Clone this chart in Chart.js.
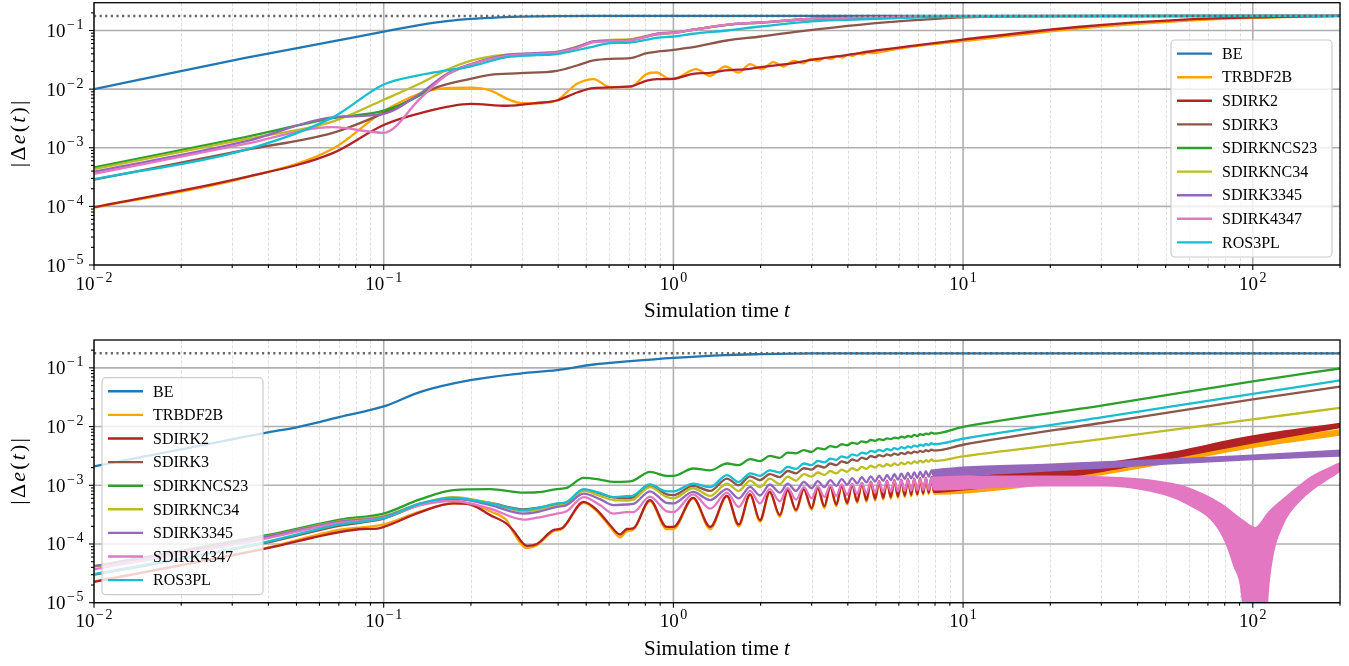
<!DOCTYPE html>
<html>
<head>
<meta charset="utf-8">
<script src="https://cdn.jsdelivr.net/npm/chart.js@4.4.0/dist/chart.umd.min.js"></script>
<style>
  body { margin: 0; background: #fff; }
  canvas { position: absolute; left: 0; }
</style>
</head>
<body>
<canvas id="chartTop" width="1349" height="333" style="top:0"></canvas>
<canvas id="chartBottom" width="1349" height="333" style="top:333px"></canvas>
<script>
// labels, colours and axis ticks
const methods = ['BE', 'TRBDF2B', 'SDIRK2', 'SDIRK3', 'SDIRKNCS23', 'SDIRKNC34', 'SDIRK3345', 'SDIRK4347', 'ROS3PL'];
const colors = ['#1f77b4', '#ffa500', '#b22222', '#8c564b', '#2ca02c', '#bcbd22', '#9467bd', '#e377c2', '#17becf'];
const xTickExps = [-2, -1, 0, 1, 2];
const yTickExps = [-5, -4, -3, -2, -1];
const tRange = [0.01, 200];
const errRange = [1e-5, 0.298];
const refLevel = [[0.01, 0.177], [200, 0.177]];

// top panel: [t, |de(t)|]
const topBE = [[0.01,0.01],[0.0333,0.034],[0.0667,0.065],[0.1,0.096],[0.134,0.125],[0.165,0.145],[0.2,0.158],[0.25,0.168],[0.3,0.173],[0.4,0.176],[0.6,0.177],[200,0.177]];
const topTRBDF2B = [[0.01,9.5e-5],[0.0333,3.1e-4],[0.0667,9.6e-4],[0.1,4.2e-3],[0.134,8.5e-3],[0.153,1.0e-2],[0.199,1.06e-2],[0.233,9.5e-3],[0.266,6.9e-3],[0.296,5.8e-3],[0.338,5.7e-3],[0.396,6.4e-3],[0.43,9.0e-3],[0.465,1.23e-2],[0.53,1.48e-2],[0.605,1.08e-2],[0.71,1.08e-2],[0.81,1.82e-2],[0.877,1.92e-2],[0.95,1.55e-2],[1.0,1.5e-2],[1.2,2.19e-2],[1.34,1.69e-2],[1.51,2.43e-2],[1.68,1.92e-2],[1.84,2.67e-2],[2.02,2.19e-2],[2.21,2.89e-2],[2.4,2.43e-2],[2.6,3.04e-2],[2.81,2.75e-2],[2.98,3.25e-2],[3.16,3.0e-2],[3.33,3.45e-2],[3.5,3.25e-2],[3.67,3.65e-2],[3.84,3.45e-2],[4.0,3.85e-2],[4.17,3.7e-2],[4.34,4.05e-2],[4.5,3.9e-2],[4.67,4.2e-2],[4.84,4.1e-2],[5.5,4.55e-2],[7.1,5.5e-2],[10,6.6e-2],[26,0.11],[60,0.148],[100,0.164],[200,0.176]];
const topSDIRK2 = [[0.01,9.7e-5],[0.0333,3.15e-4],[0.0667,8.1e-4],[0.1,2.45e-3],[0.134,3.9e-3],[0.2,5.6e-3],[0.266,5.2e-3],[0.338,5.8e-3],[0.396,6.4e-3],[0.465,8.75e-3],[0.53,1.04e-2],[0.71,1.11e-2],[0.81,1.4e-2],[0.877,1.48e-2],[1.0,1.5e-2],[1.17,1.82e-2],[1.34,1.9e-2],[1.51,2.08e-2],[1.84,2.22e-2],[2.0,2.37e-2],[2.6,2.78e-2],[3.0,3.16e-2],[4,3.85e-2],[5,4.56e-2],[7.1,5.7e-2],[10,7.0e-2],[26,0.117],[60,0.155],[100,0.167],[150,0.175],[200,0.177]];
const topSDIRK3 = [[0.01,2.85e-4],[0.0333,9.2e-4],[0.0667,1.8e-3],[0.1,3.9e-3],[0.134,8.0e-3],[0.153,1.08e-2],[0.199,1.5e-2],[0.233,1.75e-2],[0.296,1.87e-2],[0.396,2.05e-2],[0.465,2.53e-2],[0.53,3.08e-2],[0.605,3.29e-2],[0.71,3.38e-2],[0.81,4.11e-2],[1.0,4.69e-2],[1.17,5.2e-2],[1.53,6.75e-2],[2.0,7.9e-2],[2.6,9.4e-2],[4,0.12],[5,0.134],[7.1,0.152],[10,0.167],[20,0.176],[200,0.177]];
const topSDIRKNCS23 = [[0.01,4.6e-4],[0.0333,1.52e-3],[0.0667,3.2e-3],[0.1,4.3e-3],[0.134,8.0e-3],[0.165,1.75e-2],[0.199,2.6e-2],[0.233,3.33e-2],[0.266,3.85e-2],[0.396,4.2e-2],[0.465,5.2e-2],[0.53,6.4e-2],[0.71,6.9e-2],[0.877,8.6e-2],[1.0,9.1e-2],[1.17,0.103],[1.53,0.125],[2.0,0.137],[3.0,0.157],[4,0.163],[7.1,0.173],[10,0.176],[200,0.177]];
const topSDIRKNC34 = [[0.01,4.3e-4],[0.0333,1.4e-3],[0.0667,2.8e-3],[0.1,6.6e-3],[0.134,1.26e-2],[0.165,2.13e-2],[0.199,3.04e-2],[0.233,3.6e-2],[0.266,3.85e-2],[0.396,4.33e-2],[0.465,5.3e-2],[0.53,6.49e-2],[0.605,6.9e-2],[0.71,7.13e-2],[0.877,8.79e-2],[1.0,9.25e-2],[1.17,0.103],[1.53,0.125],[2.0,0.137],[3.0,0.157],[4,0.163],[7.1,0.173],[10,0.176],[200,0.177]];
const topSDIRK3345 = [[0.01,3.9e-4],[0.0333,1.28e-3],[0.0667,3.3e-3],[0.1,3.8e-3],[0.134,8.5e-3],[0.165,1.82e-2],[0.199,2.65e-2],[0.266,3.85e-2],[0.396,4.3e-2],[0.465,5.2e-2],[0.53,6.5e-2],[0.71,6.9e-2],[0.877,8.8e-2],[1.0,9.25e-2],[1.17,0.103],[1.53,0.125],[2.0,0.137],[3.0,0.157],[4,0.163],[7.1,0.173],[10,0.176],[200,0.177]];
const topSDIRK4347 = [[0.01,3.6e-4],[0.0333,1.16e-3],[0.0667,2.24e-3],[0.1,1.8e-3],[0.134,7.0e-3],[0.165,1.75e-2],[0.199,2.6e-2],[0.266,3.7e-2],[0.396,4.2e-2],[0.465,5.0e-2],[0.53,6.3e-2],[0.71,6.8e-2],[0.877,8.7e-2],[1.0,9.1e-2],[1.17,0.103],[1.53,0.126],[2.0,0.138],[3.0,0.158],[4,0.164],[7.1,0.174],[10,0.176],[200,0.177]];
const topROS3PL = [[0.01,2.9e-4],[0.0333,9.2e-4],[0.0667,3.3e-3],[0.1,1.2e-2],[0.134,1.75e-2],[0.165,2.08e-2],[0.199,2.43e-2],[0.266,3.51e-2],[0.338,3.8e-2],[0.396,3.96e-2],[0.53,5.33e-2],[0.605,6.1e-2],[0.71,6.24e-2],[0.877,7.5e-2],[1.0,7.9e-2],[1.17,8.8e-2],[1.53,0.1],[2.0,0.117],[3.0,0.143],[4,0.152],[7.1,0.167],[10,0.173],[30,0.177],[200,0.177]];

// bottom panel: [t, |de(t)|]
const botBE = [[0.01,2.1e-3],[0.02,4.1e-3],[0.0394,7.9e-3],[0.05,9.7e-3],[0.0706,0.0146],[0.1,0.022],[0.134,0.039],[0.199,0.0616],[0.296,0.08],[0.396,0.0914],[0.53,0.114],[0.71,0.13],[1.0,0.148],[1.5,0.165],[2,0.171],[3,0.176],[5,0.177],[200,0.177]];
const botTRBDF2B = [[0.01,2.3e-5],[0.0394,8.6e-5],[0.0706,1.75e-4],[0.1,2.15e-4],[0.134,3.6e-4],[0.174,4.9e-4],[0.199,4.8e-4],[0.233,3.6e-4],[0.266,2.5e-4],[0.28,1.6e-4],[0.312,8.5e-5],[0.338,9.5e-5],[0.385,1.65e-4],[0.412,1.8e-4],[0.49,5.0e-4],[0.545,3.6e-4],[0.605,1.95e-4],[0.655,1.3e-4],[0.69,1.65e-4],[0.727,1.75e-4],[0.83,5.4e-4],[0.948,1.8e-4],[1.0,1.8e-4],[1.17,6.0e-4],[1.34,1.8e-4],[1.53,6.5e-4],[1.68,2.0e-4],[1.84,6.9e-4],[1.99,2.4e-4],[2.15,7.6e-4],[2.33,2.9e-4],[2.48,8.2e-4],[2.65,3.6e-4],[2.82,8.5e-4],[3.0,3.8e-4],[3.15,8.9e-4],[3.32,4.1e-4],[3.48,9.4e-4],[3.65,4.4e-4],[3.81,9.9e-4],[3.98,4.7e-4],[4.14,1.04e-3],[4.31,5.0e-4],[4.47,1.09e-3],[4.64,5.2e-4],[4.8,1.12e-3],[4.97,5.5e-4],[5.13,1.14e-3],[5.3,5.7e-4],[5.46,1.16e-3],[5.63,5.9e-4],[5.79,1.18e-3],[5.96,6.1e-4],[6.12,1.2e-3],[6.29,6.3e-4],[6.45,1.22e-3],[6.62,6.5e-4],[6.78,1.25e-3],[6.95,6.7e-4],[7.11,1.27e-3],[7.28,6.9e-4],[7.44,1.28e-3],[7.61,7.1e-4],[7.77,1.29e-3],[7.94,7.2e-4],[10,7.5e-4],[20,1.1e-3],[30,1.55e-3],[50,2.4e-3],[100,4.5e-3],[200,7.3e-3]];
const botTRBDF2BPeaks = [[7.77,1.29e-3],[10,1.3e-3],[20,1.6e-3],[30,2.05e-3],[50,2.9e-3],[100,5.4e-3],[200,8.6e-3]];
const botSDIRK2 = [[0.01,2.26e-5],[0.0394,8.4e-5],[0.0706,1.6e-4],[0.085,1.8e-4],[0.095,1.83e-4],[0.1,1.95e-4],[0.134,3.5e-4],[0.174,4.9e-4],[0.199,4.7e-4],[0.233,3.1e-4],[0.266,2.2e-4],[0.28,1.7e-4],[0.312,9.3e-5],[0.338,1.0e-4],[0.385,1.72e-4],[0.412,1.85e-4],[0.49,5.2e-4],[0.545,3.77e-4],[0.605,2.09e-4],[0.655,1.45e-4],[0.69,1.8e-4],[0.727,1.85e-4],[0.83,5.6e-4],[0.948,1.95e-4],[1.0,1.95e-4],[1.17,6.1e-4],[1.34,1.95e-4],[1.53,6.6e-4],[1.68,2.15e-4],[1.84,7.0e-4],[1.99,2.54e-4],[2.15,7.7e-4],[2.33,3.1e-4],[2.48,8.3e-4],[2.65,3.8e-4],[2.82,8.6e-4],[3.0,4.1e-4],[3.15,9.0e-4],[3.32,4.4e-4],[3.48,9.5e-4],[3.65,4.7e-4],[3.81,1.0e-3],[3.98,5.0e-4],[4.14,1.05e-3],[4.31,5.3e-4],[4.47,1.1e-3],[4.64,5.6e-4],[4.8,1.15e-3],[4.97,5.9e-4],[5.13,1.17e-3],[5.3,6.1e-4],[5.46,1.2e-3],[5.63,6.3e-4],[5.79,1.22e-3],[5.96,6.5e-4],[6.12,1.25e-3],[6.29,6.7e-4],[6.45,1.27e-3],[6.62,6.9e-4],[6.78,1.3e-3],[6.95,7.1e-4],[7.11,1.32e-3],[7.28,7.3e-4],[7.44,1.34e-3],[7.61,7.5e-4],[7.77,1.36e-3],[7.94,7.7e-4],[10,8.5e-4],[20,1.3e-3],[30,1.75e-3],[50,2.8e-3],[100,5.4e-3],[200,9.8e-3]];
const botSDIRK2Peaks = [[7.77,1.36e-3],[10,1.39e-3],[20,1.8e-3],[30,2.3e-3],[50,3.4e-3],[100,6.8e-3],[200,1.11e-2]];
const botSDIRK3 = [[0.01,3.0e-5],[0.0394,1.05e-4],[0.0706,2.05e-4],[0.1,2.7e-4],[0.134,4.7e-4],[0.174,5.9e-4],[0.233,5.0e-4],[0.304,3.9e-4],[0.338,4.1e-4],[0.396,4.8e-4],[0.428,5.1e-4],[0.49,8.3e-4],[0.558,7.2e-4],[0.621,6.2e-4],[0.69,6.0e-4],[0.727,6.2e-4],[0.83,9.7e-4],[0.948,7.0e-4],[1.0,6.8e-4],[1.17,9.8e-4],[1.34,8.0e-4],[1.53,1.3e-3],[1.68,1.0e-3],[1.84,1.42e-3],[1.99,1.22e-3],[2.15,1.55e-3],[2.33,1.38e-3],[2.48,1.75e-3],[2.65,1.6e-3],[2.82,1.95e-3],[3.0,1.85e-3],[3.15,2.15e-3],[3.32,2.0e-3],[3.48,2.35e-3],[3.65,2.2e-3],[3.81,2.55e-3],[3.98,2.4e-3],[4.14,2.75e-3],[4.31,2.6e-3],[4.47,2.95e-3],[4.64,2.8e-3],[4.8,3.15e-3],[4.97,3.0e-3],[5.13,3.25e-3],[5.3,3.1e-3],[5.46,3.35e-3],[5.63,3.2e-3],[5.79,3.45e-3],[5.96,3.3e-3],[6.12,3.55e-3],[6.29,3.4e-3],[6.45,3.65e-3],[6.62,3.5e-3],[6.78,3.75e-3],[6.95,3.6e-3],[7.11,3.85e-3],[7.28,3.7e-3],[7.44,3.95e-3],[7.61,3.8e-3],[7.77,4.05e-3],[7.94,3.9e-3],[10,4.9e-3],[30,0.0115],[100,0.029],[200,0.048]];
const botSDIRKNCS23 = [[0.01,4.2e-5],[0.0394,1.41e-4],[0.0706,2.6e-4],[0.1,3.3e-4],[0.134,5.8e-4],[0.174,8.3e-4],[0.233,8.6e-4],[0.304,7.5e-4],[0.338,7.6e-4],[0.396,8.6e-4],[0.428,9.0e-4],[0.49,1.34e-3],[0.558,1.25e-3],[0.621,1.14e-3],[0.69,1.15e-3],[0.727,1.2e-3],[0.83,1.69e-3],[0.948,1.45e-3],[1.0,1.45e-3],[1.17,1.93e-3],[1.34,1.8e-3],[1.53,2.35e-3],[1.68,2.2e-3],[1.84,2.79e-3],[1.99,2.57e-3],[2.15,3.16e-3],[2.33,2.93e-3],[2.48,3.6e-3],[2.65,3.5e-3],[2.82,3.96e-3],[3.0,3.7e-3],[3.15,4.3e-3],[3.32,4.1e-3],[3.48,4.65e-3],[3.65,4.45e-3],[3.81,5.0e-3],[3.98,4.8e-3],[4.14,5.3e-3],[4.31,5.1e-3],[4.47,5.6e-3],[4.64,5.4e-3],[4.8,5.9e-3],[4.97,5.7e-3],[5.13,6.1e-3],[5.3,5.9e-3],[5.46,6.3e-3],[5.63,6.1e-3],[5.79,6.5e-3],[5.96,6.3e-3],[6.12,6.7e-3],[6.29,6.5e-3],[6.45,6.9e-3],[6.62,6.7e-3],[6.78,7.2e-3],[6.95,6.9e-3],[7.11,7.4e-3],[7.28,7.2e-3],[7.44,7.6e-3],[7.61,7.4e-3],[7.77,7.9e-3],[7.94,7.6e-3],[10,9.9e-3],[30,0.0228],[100,0.059],[200,0.0975]];
const botSDIRKNC34 = [[0.01,4.1e-5],[0.0394,1.35e-4],[0.0706,2.45e-4],[0.1,3.0e-4],[0.134,4.9e-4],[0.174,6.3e-4],[0.233,5.0e-4],[0.304,3.6e-4],[0.338,3.8e-4],[0.396,4.5e-4],[0.428,4.8e-4],[0.49,8.0e-4],[0.558,6.6e-4],[0.621,5.6e-4],[0.69,5.5e-4],[0.727,5.7e-4],[0.83,9.3e-4],[0.948,6.3e-4],[1.0,6.0e-4],[1.17,8.9e-4],[1.34,6.6e-4],[1.53,1.07e-3],[1.68,8.0e-4],[1.84,1.2e-3],[1.99,9.3e-4],[2.15,1.3e-3],[2.33,1.05e-3],[2.48,1.4e-3],[2.65,1.2e-3],[2.82,1.55e-3],[3.0,1.4e-3],[3.15,1.65e-3],[3.32,1.5e-3],[3.48,1.75e-3],[3.65,1.6e-3],[3.81,1.85e-3],[3.98,1.7e-3],[4.14,1.95e-3],[4.31,1.8e-3],[4.47,2.05e-3],[4.64,1.9e-3],[4.8,2.15e-3],[4.97,2.0e-3],[5.13,2.22e-3],[5.3,2.08e-3],[5.46,2.28e-3],[5.63,2.14e-3],[5.79,2.35e-3],[5.96,2.2e-3],[6.12,2.42e-3],[6.29,2.27e-3],[6.45,2.48e-3],[6.62,2.33e-3],[6.78,2.55e-3],[6.95,2.4e-3],[7.11,2.62e-3],[7.28,2.46e-3],[7.44,2.68e-3],[7.61,2.52e-3],[7.77,2.75e-3],[7.94,2.58e-3],[10,3.1e-3],[30,6.1e-3],[100,0.0133],[200,0.0208]];
const botSDIRK3345 = [[0.01,4.2e-5],[0.0394,1.33e-4],[0.0706,2.4e-4],[0.1,2.9e-4],[0.134,4.8e-4],[0.174,6.0e-4],[0.233,4.6e-4],[0.304,3.3e-4],[0.338,3.5e-4],[0.396,4.3e-4],[0.428,4.6e-4],[0.49,7.2e-4],[0.558,5.8e-4],[0.621,4.6e-4],[0.69,4.7e-4],[0.727,4.8e-4],[0.83,7.9e-4],[0.948,5.0e-4],[1.0,4.9e-4],[1.17,7.7e-4],[1.34,5.6e-4],[1.53,8.6e-4],[1.68,6.0e-4],[1.84,9.4e-4],[1.99,6.7e-4],[2.15,1.03e-3],[2.33,7.5e-4],[2.48,1.07e-3],[2.65,8.0e-4],[2.82,1.14e-3],[3.0,8.9e-4],[3.15,1.18e-3],[3.32,9.3e-4],[3.48,1.22e-3],[3.65,9.8e-4],[3.81,1.27e-3],[3.98,1.03e-3],[4.14,1.32e-3],[4.31,1.08e-3],[4.47,1.37e-3],[4.64,1.12e-3],[4.8,1.42e-3],[4.97,1.16e-3],[5.13,1.46e-3],[5.3,1.19e-3],[5.46,1.5e-3],[5.63,1.22e-3],[5.79,1.54e-3],[5.96,1.25e-3],[6.12,1.58e-3],[6.29,1.28e-3],[6.45,1.62e-3],[6.62,1.31e-3],[6.78,1.66e-3],[6.95,1.34e-3],[7.11,1.7e-3],[7.28,1.37e-3],[7.44,1.74e-3],[7.61,1.4e-3],[7.77,1.78e-3],[7.94,1.42e-3],[10,1.5e-3],[20,1.8e-3],[30,2.0e-3],[50,2.35e-3],[100,2.8e-3],[200,3.2e-3]];
const botSDIRK3345Peaks = [[7.77,1.78e-3],[10,2.0e-3],[20,2.25e-3],[30,2.45e-3],[50,2.7e-3],[100,3.2e-3],[200,3.9e-3]];
const botSDIRK4347 = [[0.01,3.7e-5],[0.0394,1.25e-4],[0.0706,2.3e-4],[0.1,2.8e-4],[0.134,4.6e-4],[0.174,5.4e-4],[0.233,4.0e-4],[0.304,2.6e-4],[0.338,2.8e-4],[0.396,3.3e-4],[0.428,3.6e-4],[0.49,6.3e-4],[0.558,4.6e-4],[0.621,3.3e-4],[0.69,3.5e-4],[0.727,3.5e-4],[0.83,6.4e-4],[0.948,3.6e-4],[1.0,3.5e-4],[1.17,7.0e-4],[1.34,4.0e-4],[1.53,7.5e-4],[1.68,4.3e-4],[1.84,8.0e-4],[1.99,4.9e-4],[2.15,8.6e-4],[2.33,5.3e-4],[2.48,9.0e-4],[2.65,5.7e-4],[2.82,9.3e-4],[3.0,6.0e-4],[3.15,9.6e-4],[3.32,6.3e-4],[3.48,1.0e-3],[3.65,6.6e-4],[3.81,1.03e-3],[3.98,6.9e-4],[4.14,1.06e-3],[4.31,7.1e-4],[4.47,1.1e-3],[4.64,7.3e-4],[4.8,1.13e-3],[4.97,7.5e-4],[5.13,1.16e-3],[5.3,7.7e-4],[5.46,1.18e-3],[5.63,7.8e-4],[5.79,1.2e-3],[5.96,7.9e-4],[6.12,1.22e-3],[6.29,8.0e-4],[6.45,1.24e-3],[6.62,8.1e-4],[6.78,1.27e-3],[6.95,8.2e-4],[7.11,1.29e-3],[7.28,8.3e-4],[7.44,1.31e-3],[7.61,8.4e-4],[7.77,1.33e-3],[7.94,8.5e-4],[10,8.8e-4],[19.2,1.0e-3],[30,1.0e-3],[44.3,8.1e-4],[58.5,5.1e-4],[77.3,1.66e-4],[86,4.5e-5],[92.5,1e-5],[95,1e-6],[110,1e-6],[112,1e-5],[115.5,4.5e-5],[127,2.2e-4],[146,5.7e-4],[200,1.78e-3]];
const botSDIRK4347Peaks = [[7.77,1.33e-3],[10,1.4e-3],[19.2,1.4e-3],[30,1.36e-3],[44.3,1.2e-3],[58.5,9.2e-4],[77.3,4.8e-4],[91.2,2.6e-4],[101.9,1.86e-4],[114,3.5e-4],[134.6,7.1e-4],[159,1.36e-3],[200,2.36e-3]];
const botROS3PL = [[0.01,3.06e-5],[0.0394,1.09e-4],[0.0706,2.15e-4],[0.1,2.75e-4],[0.134,4.9e-4],[0.174,6.1e-4],[0.233,4.9e-4],[0.304,3.8e-4],[0.338,4.1e-4],[0.396,4.9e-4],[0.428,5.2e-4],[0.49,8.6e-4],[0.558,7.4e-4],[0.621,6.3e-4],[0.69,6.5e-4],[0.727,6.7e-4],[0.83,1.03e-3],[0.948,7.9e-4],[1.0,7.9e-4],[1.17,1.07e-3],[1.34,9.3e-4],[1.53,1.49e-3],[1.68,1.14e-3],[1.84,1.6e-3],[1.99,1.45e-3],[2.15,1.8e-3],[2.33,1.65e-3],[2.48,2.06e-3],[2.65,1.9e-3],[2.82,2.35e-3],[3.0,2.2e-3],[3.15,2.6e-3],[3.32,2.45e-3],[3.48,2.85e-3],[3.65,2.7e-3],[3.81,3.1e-3],[3.98,2.95e-3],[4.14,3.35e-3],[4.31,3.2e-3],[4.47,3.6e-3],[4.64,3.45e-3],[4.8,3.85e-3],[4.97,3.7e-3],[5.13,4.0e-3],[5.3,3.8e-3],[5.46,4.15e-3],[5.63,3.95e-3],[5.79,4.3e-3],[5.96,4.1e-3],[6.12,4.45e-3],[6.29,4.25e-3],[6.45,4.6e-3],[6.62,4.4e-3],[6.78,4.75e-3],[6.95,4.55e-3],[7.11,4.9e-3],[7.28,4.7e-3],[7.44,5.05e-3],[7.61,4.85e-3],[7.77,5.2e-3],[7.94,5.0e-3],[10,6.2e-3],[30,0.0143],[100,0.036],[200,0.061]];

const topSeries = [topBE, topTRBDF2B, topSDIRK2, topSDIRK3, topSDIRKNCS23, topSDIRKNC34, topSDIRK3345, topSDIRK4347, topROS3PL];
const botSeries = [botBE, botTRBDF2B, botSDIRK2, botSDIRK3, botSDIRKNCS23, botSDIRKNC34, botSDIRK3345, botSDIRK4347, botROS3PL];
// oscillation envelopes (upper edge), filled down to the series line
const botBands = [
  { of: 1, data: botTRBDF2BPeaks },
  { of: 2, data: botSDIRK2Peaks },
  { of: 6, data: botSDIRK3345Peaks },
  { of: 7, data: botSDIRK4347Peaks }
];

const SERIF = '"Liberation Serif", "Times New Roman", serif';
const pts = arr => arr.map(([x, y]) => ({ x, y }));

function buildDatasets(series, bands) {
  const ds = series.map((s, i) => ({
    label: methods[i],
    data: pts(s),
    borderColor: colors[i],
    backgroundColor: colors[i],
    order: 100 - i * 10
  }));
  bands.forEach(b => ds.push({
    label: '',
    data: pts(b.data),
    borderColor: colors[b.of],
    backgroundColor: colors[b.of],
    fill: b.of,
    order: 99 - b.of * 10
  }));
  ds.push({
    label: '',
    data: pts(refLevel),
    borderColor: 'rgba(95,95,95,0.95)',
    borderWidth: 2.4,
    borderDash: [2.2, 3.4],
    cubicInterpolationMode: 'default',
    order: 0
  });
  return ds;
}

function drawPow(ctx, exp, x, y, align) {
  const sign = exp < 0 ? '\u2212' : '';
  const digit = String(Math.abs(exp));
  ctx.font = '19px ' + SERIF;
  const wb = ctx.measureText('10').width;
  ctx.font = '14px ' + SERIF;
  const wm = sign ? ctx.measureText(sign).width + 1.5 : 0;
  const wd = ctx.measureText(digit).width;
  const total = wb + 1.5 + wm + wd;
  const x0 = align === 'center' ? x - total / 2 : x - total;
  ctx.textAlign = 'left';
  ctx.textBaseline = 'alphabetic';
  ctx.font = '19px ' + SERIF;
  ctx.fillText('10', x0, y);
  ctx.font = '14px ' + SERIF;
  if (sign) ctx.fillText(sign, x0 + wb + 1.5, y - 8);
  ctx.fillText(digit, x0 + wb + 1.5 + wm, y - 8);
}

// mixed upright / italic text, with optional extra spacing between pieces
function runsWidth(ctx, runs, size, gap) {
  return runs.reduce((w, [txt, italic]) => {
    ctx.font = (italic ? 'italic ' : '') + size + 'px ' + SERIF;
    return w + ctx.measureText(txt).width;
  }, 0) + gap * (runs.length - 1);
}
function drawRuns(ctx, runs, x, y, size, gap) {
  let cx = x;
  runs.forEach(([txt, italic]) => {
    ctx.font = (italic ? 'italic ' : '') + size + 'px ' + SERIF;
    ctx.fillText(txt, cx, y);
    cx += ctx.measureText(txt).width + gap;
  });
}

const decor = {
  id: 'decor',
  beforeDatasetsDraw(chart) {
    const { ctx, chartArea: a, scales } = chart;
    const x = scales.x, y = scales.y;
    ctx.save();
    // minor vertical grid (dashed)
    ctx.strokeStyle = '#dcdcdc';
    ctx.lineWidth = 0.9;
    ctx.setLineDash([3.5, 1.6]);
    for (let e = -2; e <= 2; e++) {
      for (let k = 2; k <= 9; k++) {
        const v = k * Math.pow(10, e);
        if (v > tRange[1]) continue;
        const px = Math.round(x.getPixelForValue(v)) + 0.5;
        ctx.beginPath(); ctx.moveTo(px, a.top); ctx.lineTo(px, a.bottom); ctx.stroke();
      }
    }
    // major grid
    ctx.setLineDash([]);
    ctx.strokeStyle = '#b0b0b0';
    ctx.lineWidth = 1.6;
    xTickExps.forEach(e => {
      const px = x.getPixelForValue(Math.pow(10, e));
      ctx.beginPath(); ctx.moveTo(px, a.top); ctx.lineTo(px, a.bottom); ctx.stroke();
    });
    yTickExps.forEach(e => {
      const py = y.getPixelForValue(Math.pow(10, e));
      ctx.beginPath(); ctx.moveTo(a.left, py); ctx.lineTo(a.right, py); ctx.stroke();
    });
    ctx.restore();
  },
  afterDatasetsDraw(chart, args, opts) {
    const { ctx, chartArea: a, scales } = chart;
    const x = scales.x, y = scales.y;
    ctx.save();
    ctx.fillStyle = '#000';
    ctx.strokeStyle = '#000';
    // spines
    ctx.lineWidth = 1.3;
    ctx.strokeRect(a.left, a.top, a.right - a.left, a.bottom - a.top);
    // tick marks
    ctx.lineWidth = 1.1;
    for (let e = -2; e <= 2; e++) {
      for (let k = 1; k <= 9; k++) {
        const v = k * Math.pow(10, e);
        if (v > tRange[1]) continue;
        const px = x.getPixelForValue(v);
        ctx.beginPath(); ctx.moveTo(px, a.bottom); ctx.lineTo(px, a.bottom + (k === 1 ? 5 : 3)); ctx.stroke();
      }
    }
    for (let e = -5; e <= -1; e++) {
      for (let k = 1; k <= 9; k++) {
        const v = k * Math.pow(10, e);
        if (v > errRange[1]) continue;
        const py = y.getPixelForValue(v);
        ctx.beginPath(); ctx.moveTo(a.left, py); ctx.lineTo(a.left - (k === 1 ? 5 : 3), py); ctx.stroke();
      }
    }
    // tick labels
    xTickExps.forEach(e => drawPow(ctx, e, x.getPixelForValue(Math.pow(10, e)), a.bottom + 24.5, 'center'));
    yTickExps.forEach(e => drawPow(ctx, e, a.left - 10.5, y.getPixelForValue(Math.pow(10, e)) + 6.5, 'right'));
    // axis titles
    ctx.textAlign = 'left';
    ctx.textBaseline = 'alphabetic';
    const xRuns = [['Simulation time ', false], ['t', true]];
    const xw = runsWidth(ctx, xRuns, 21, 0);
    drawRuns(ctx, xRuns, (a.left + a.right) / 2 - xw / 2, a.bottom + 52, 21, 0);
    const yRuns = [['|', false], ['\u0394', false], ['e', true], ['(', false], ['t', true], [')', false], ['|', false]];
    const yw = runsWidth(ctx, yRuns, 22, 2.2);
    ctx.save();
    ctx.translate(25, (a.top + a.bottom) / 2);
    ctx.rotate(-Math.PI / 2);
    drawRuns(ctx, yRuns, -yw / 2, 0, 22, 2.2);
    ctx.restore();
    // legend box
    const bw = 161, bh = 217;
    const bx = opts.legend === 'lower right' ? a.right - 8 - bw : a.left + 8;
    const by = a.bottom - 8 - bh;
    ctx.beginPath();
    ctx.roundRect(bx, by, bw, bh, 4);
    ctx.fillStyle = 'rgba(255,255,255,0.8)';
    ctx.fill();
    ctx.strokeStyle = '#cccccc';
    ctx.lineWidth = 1.2;
    ctx.stroke();
    ctx.font = '16px ' + SERIF;
    ctx.textBaseline = 'middle';
    ctx.fillStyle = '#000';
    methods.forEach((m, i) => {
      const ly = by + 13.6 + i * 23.6;
      ctx.strokeStyle = colors[i];
      ctx.lineWidth = 2.4;
      ctx.beginPath(); ctx.moveTo(bx + 6, ly); ctx.lineTo(bx + 41, ly); ctx.stroke();
      ctx.fillText(m, bx + 51, ly + 1);
    });
    ctx.restore();
  }
};

function makeChart(id, series, bands, top, axisH, legendPos) {
  return new Chart(document.getElementById(id), {
    type: 'line',
    data: { datasets: buildDatasets(series, bands) },
    options: {
      responsive: false,
      animation: false,
      events: [],
      layout: { padding: { top: top, right: 9, left: 0, bottom: 0 } },
      datasets: {
        line: {
          borderWidth: 2.3,
          pointRadius: 0,
          cubicInterpolationMode: 'monotone',
          borderJoinStyle: 'round',
          clip: 0,
          fill: false
        }
      },
      scales: {
        x: {
          type: 'logarithmic', min: tRange[0], max: tRange[1], bounds: 'data',
          grid: { display: false }, border: { display: false }, ticks: { display: false },
          afterFit(s) { s.height = axisH; }
        },
        y: {
          type: 'logarithmic', min: errRange[0], max: errRange[1], bounds: 'data',
          grid: { display: false }, border: { display: false }, ticks: { display: false },
          afterFit(s) { s.width = 94; }
        }
      },
      plugins: {
        legend: { display: false },
        tooltip: { enabled: false },
        decor: { legend: legendPos }
      }
    },
    plugins: [decor]
  });
}

makeChart('chartTop', topSeries, [], 2.7, 68, 'lower right');
makeChart('chartBottom', botSeries, botBands, 7, 63.3, 'lower left');
</script>
</body>
</html>
